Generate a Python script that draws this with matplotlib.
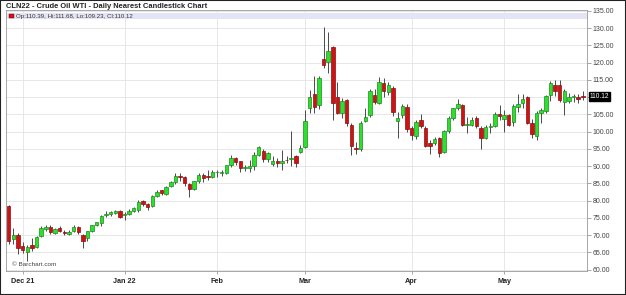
import numpy as np
import pandas as pd
import matplotlib
matplotlib.use("Agg")
import matplotlib.pyplot as plt
import matplotlib.transforms as mtransforms
from matplotlib.patches import Rectangle

plt.rcParams["font.family"] = ["Liberation Sans", "DejaVu Sans"]

# ---------------------------------------------
# Daten: CLN22 Tageskerzen
# ---------------------------------------------
holidays = ["2021-12-24", "2022-01-17", "2022-02-21", "2022-04-15"]
dates = pd.bdate_range("2021-11-26", "2022-05-25")
dates = dates[~dates.isin(pd.to_datetime(holidays))]

opens = [78.3, 68.9, 70.0, 66.8, 65.1, 67.0, 66.5, 69.6, 71.8, 72.4,
         70.6, 71.9, 71.0, 70.4, 71.2, 72.2, 69.9, 69.0, 71.3, 72.9,
         73.5, 75.9, 76.0, 76.4, 76.9,
         75.7, 76.2, 77.0, 77.2, 79.8, 79.1, 78.3, 81.2, 83.0, 81.8,
         84.1, 85.4, 87.0, 86.9, 84.8, 83.4, 85.6, 87.4, 86.9, 86.9,
         88.2, 88.1, 88.0, 90.2, 92.3, 91.4, 89.4, 89.5, 89.9, 93.2,
         94.5, 92.0, 90.6, 91.4, 90.9, 91.9, 92.0, 92.9, 94.2,
         95.6, 106.8, 110.9, 107.7, 121.0, 120.3, 124.5, 110.0, 105.5, 109.2,
         101.9, 95.3, 94.9, 103.2, 104.8, 110.6, 108.4, 114.2, 111.6, 112.6,
         103.1, 104.7, 107.1,
         101.0, 98.6, 103.4, 101.0, 96.6, 96.6, 98.1, 94.2, 100.2, 103.9,
         106.8, 107.6, 102.0, 101.9, 103.9, 101.0, 98.1, 101.4, 101.7, 105.0,
         103.6, 104.7, 102.9, 107.1, 108.2, 110.0, 102.4, 98.6, 105.5, 106.1,
         110.6, 113.5, 113.5, 108.7, 109.0, 110.1, 110.0, 110.39]
highs = [78.6, 72.0, 70.6, 68.0, 67.0, 69.0, 69.7, 72.5, 72.9, 72.9,
         72.0, 72.5, 71.6, 71.5, 72.9, 72.5, 70.2, 71.3, 72.9, 73.9,
         75.9, 76.9, 77.0, 77.4, 77.2,
         76.8, 77.6, 78.2, 80.2, 80.1, 79.3, 81.5, 83.0, 83.0, 84.2,
         85.7, 87.9, 87.9, 87.1, 85.1, 85.7, 87.9, 88.0, 88.8, 88.8,
         89.0, 89.0, 90.4, 93.2, 92.7, 91.6, 90.2, 91.7, 94.0, 95.8,
         95.0, 94.0, 93.0, 92.3, 94.7, 93.0, 100.3, 93.3, 96.0,
         106.3, 112.1, 116.1, 116.0, 130.3, 129.0, 124.8, 114.5, 109.7, 109.5,
         102.5, 97.0, 103.0, 106.9, 112.5, 112.5, 115.9, 115.5, 114.5, 113.2,
         105.6, 108.0, 108.0,
         101.5, 103.5, 105.0, 101.5, 97.5, 98.5, 98.5, 100.6, 104.5, 107.0,
         109.5, 108.0, 104.3, 104.2, 104.5, 101.5, 102.0, 102.5, 105.7, 107.7,
         106.3, 105.0, 108.0, 110.9, 111.0, 110.3, 103.6, 106.0, 107.0, 110.6,
         114.8, 115.0, 114.9, 112.5, 111.3, 110.9, 111.0, 111.68]
lows = [67.4, 67.4, 64.4, 64.8, 62.4, 65.3, 66.2, 69.3, 71.1, 70.4,
        70.3, 70.8, 69.9, 69.9, 71.0, 70.2, 66.1, 68.4, 71.0, 72.6,
        72.7, 75.3, 75.6, 76.0, 74.9,
        74.3, 75.7, 76.6, 76.8, 78.4, 77.4, 78.2, 81.0, 81.5, 81.6,
        83.8, 84.8, 85.8, 84.1, 81.1, 83.0, 85.2, 85.4, 86.0, 86.5,
        86.8, 87.1, 87.7, 89.6, 90.4, 88.2, 88.6, 88.2, 89.0, 92.8,
        91.3, 91.1, 90.1, 89.6, 88.9, 90.9, 90.0, 89.8, 93.7,
        95.2, 105.5, 105.5, 106.5, 118.5, 116.9, 103.5, 105.0, 104.0, 101.7,
        93.2, 93.5, 94.5, 102.8, 104.2, 108.0, 108.0, 110.1, 110.5, 104.5,
        98.1, 104.0, 100.0,
        97.5, 98.0, 101.0, 95.4, 93.4, 96.0, 92.5, 93.8, 99.5, 103.5,
        106.3, 101.6, 99.5, 101.5, 101.0, 95.0, 97.8, 99.5, 101.3, 103.4,
        100.0, 101.6, 101.7, 105.8, 106.8, 102.2, 98.3, 97.7, 102.6, 105.4,
        108.8, 110.3, 108.5, 104.8, 108.4, 108.5, 108.4, 109.23]
closes = [68.2, 69.9, 66.2, 65.6, 66.5, 66.3, 69.5, 72.0, 72.4, 70.9,
          71.7, 71.3, 70.7, 70.9, 72.4, 70.9, 68.2, 71.1, 72.8, 73.8,
          75.6, 76.0, 76.6, 77.0, 75.2,
          76.1, 77.0, 77.9, 79.5, 78.9, 78.2, 81.2, 82.6, 82.1, 83.8,
          85.4, 87.0, 86.9, 85.1, 83.3, 85.6, 87.3, 86.6, 86.8, 88.2,
          88.2, 88.3, 90.3, 92.3, 91.3, 89.4, 89.7, 89.9, 93.1, 95.5,
          92.1, 93.7, 91.6, 90.9, 91.6, 91.7, 92.4, 91.0, 95.2,
          103.1, 110.1, 107.2, 115.5, 119.4, 123.5, 108.2, 105.5, 108.9, 102.6,
          95.8, 95.0, 102.6, 104.3, 111.9, 108.7, 114.5, 111.9, 113.4, 105.6,
          104.1, 107.5, 100.8,
          98.9, 102.9, 101.5, 95.7, 95.7, 97.8, 93.7, 100.2, 104.1, 106.8,
          107.9, 101.9, 102.1, 103.4, 101.5, 98.1, 101.4, 101.6, 105.0, 104.6,
          104.8, 102.0, 107.5, 108.0, 109.4, 102.6, 99.3, 105.5, 106.3, 110.4,
          114.0, 111.9, 109.2, 111.9, 110.0, 110.3, 109.4, 110.12]

title = "CLN22 - Crude Oil WTI - Daily Nearest Candlestick Chart"
month_labels = ["Dec 21", "Jan 22", "Feb", "Mar", "Apr", "May"]

# ------------
# Candlesticks
# ------------
o = np.array(opens)
h = np.array(highs)
l = np.array(lows)
c = np.array(closes)
x = np.arange(len(dates))
up = c >= o

fig = plt.figure(figsize=(6.26, 2.95), dpi=100)
ax = fig.add_axes([6 / 626, 1 - 271 / 295, 581 / 626, 261 / 295])

ax.vlines(x, l, h, color="#4a4a4a", linewidth=0.7, zorder=3)
body = np.maximum(np.abs(c - o), 0.2)
bottom = np.minimum(o, c)
ax.bar(x[up], body[up], bottom=bottom[up], width=0.74,
       color="#2ee02e", edgecolor="#1c8a1c", linewidth=0.5, zorder=4)
ax.bar(x[~up], body[~up], bottom=bottom[~up], width=0.74,
       color="#cc1414", edgecolor="#8a0e0e", linewidth=0.5, zorder=4)

ax.set_xlim(-0.6, 124.9)
ax.set_ylim(59.57, 135.29)

# Achsen
yt = np.arange(60, 136, 5)
ax.yaxis.tick_right()
ax.set_yticks(yt)
ax.set_yticklabels(["" if v == 110 else f"{v:.2f}" for v in yt])
ax.tick_params(axis="y", length=3, width=0.6, color="#999999",
               labelsize=5, labelcolor="#444444", pad=1)

month_pos = [i for i in range(1, len(dates)) if dates[i].month != dates[i - 1].month]
ax.set_xticks(month_pos)
ax.set_xticklabels(month_labels, fontweight="bold", fontsize=5.2, color="#222222")
ax.tick_params(axis="x", length=2, width=0.6, color="#999999", pad=3)

ax.grid(True, color="#e3e3e3", linewidth=0.6, zorder=0)
ax.set_axisbelow(True)
for s in ax.spines.values():
    s.set_color("#999999")
    s.set_linewidth(0.6)

# Legendenband oben
ax.add_patch(Rectangle((0, 0.964), 1, 0.026, transform=ax.transAxes,
                       facecolor="#e4e4f7", edgecolor="none", zorder=2))
ax.add_patch(Rectangle((0.0045, 0.970), 0.009, 0.015, transform=ax.transAxes,
                       facecolor="#cc1414", edgecolor="#660000", linewidth=0.3, zorder=5))
ax.text(0.0165, 0.977,
        f"Op:{opens[-1]:.2f}, Hi:{highs[-1]:.2f}, Lo:{lows[-1]:.2f}, Cl:{closes[-1]:.2f}",
        transform=ax.transAxes, fontsize=4.4, color="#333333", va="center", zorder=5)

# aktueller Kurs
trans = mtransforms.blended_transform_factory(ax.transAxes, ax.transData)
ax.text(1.005, closes[-1], f"{closes[-1]:.2f}", transform=trans, fontsize=4.8,
        color="white", va="center", ha="left", zorder=6, clip_on=False,
        bbox=dict(boxstyle="square,pad=0.12", facecolor="black", edgecolor="black"))

ax.text(0.0103, 0.023, "\u00a9 Barchart.com", transform=ax.transAxes,
        fontsize=4.6, color="#444444", va="center")

fig.text(6 / 626, 1 - 7 / 295, title, fontsize=5.4, fontweight="bold",
         color="#222222", va="center")

fig.patches.append(Rectangle((0, 0), 1, 1, transform=fig.transFigure, fill=False,
                             edgecolor="#222222", linewidth=1.5))

fig.savefig("out.png", dpi=100)
